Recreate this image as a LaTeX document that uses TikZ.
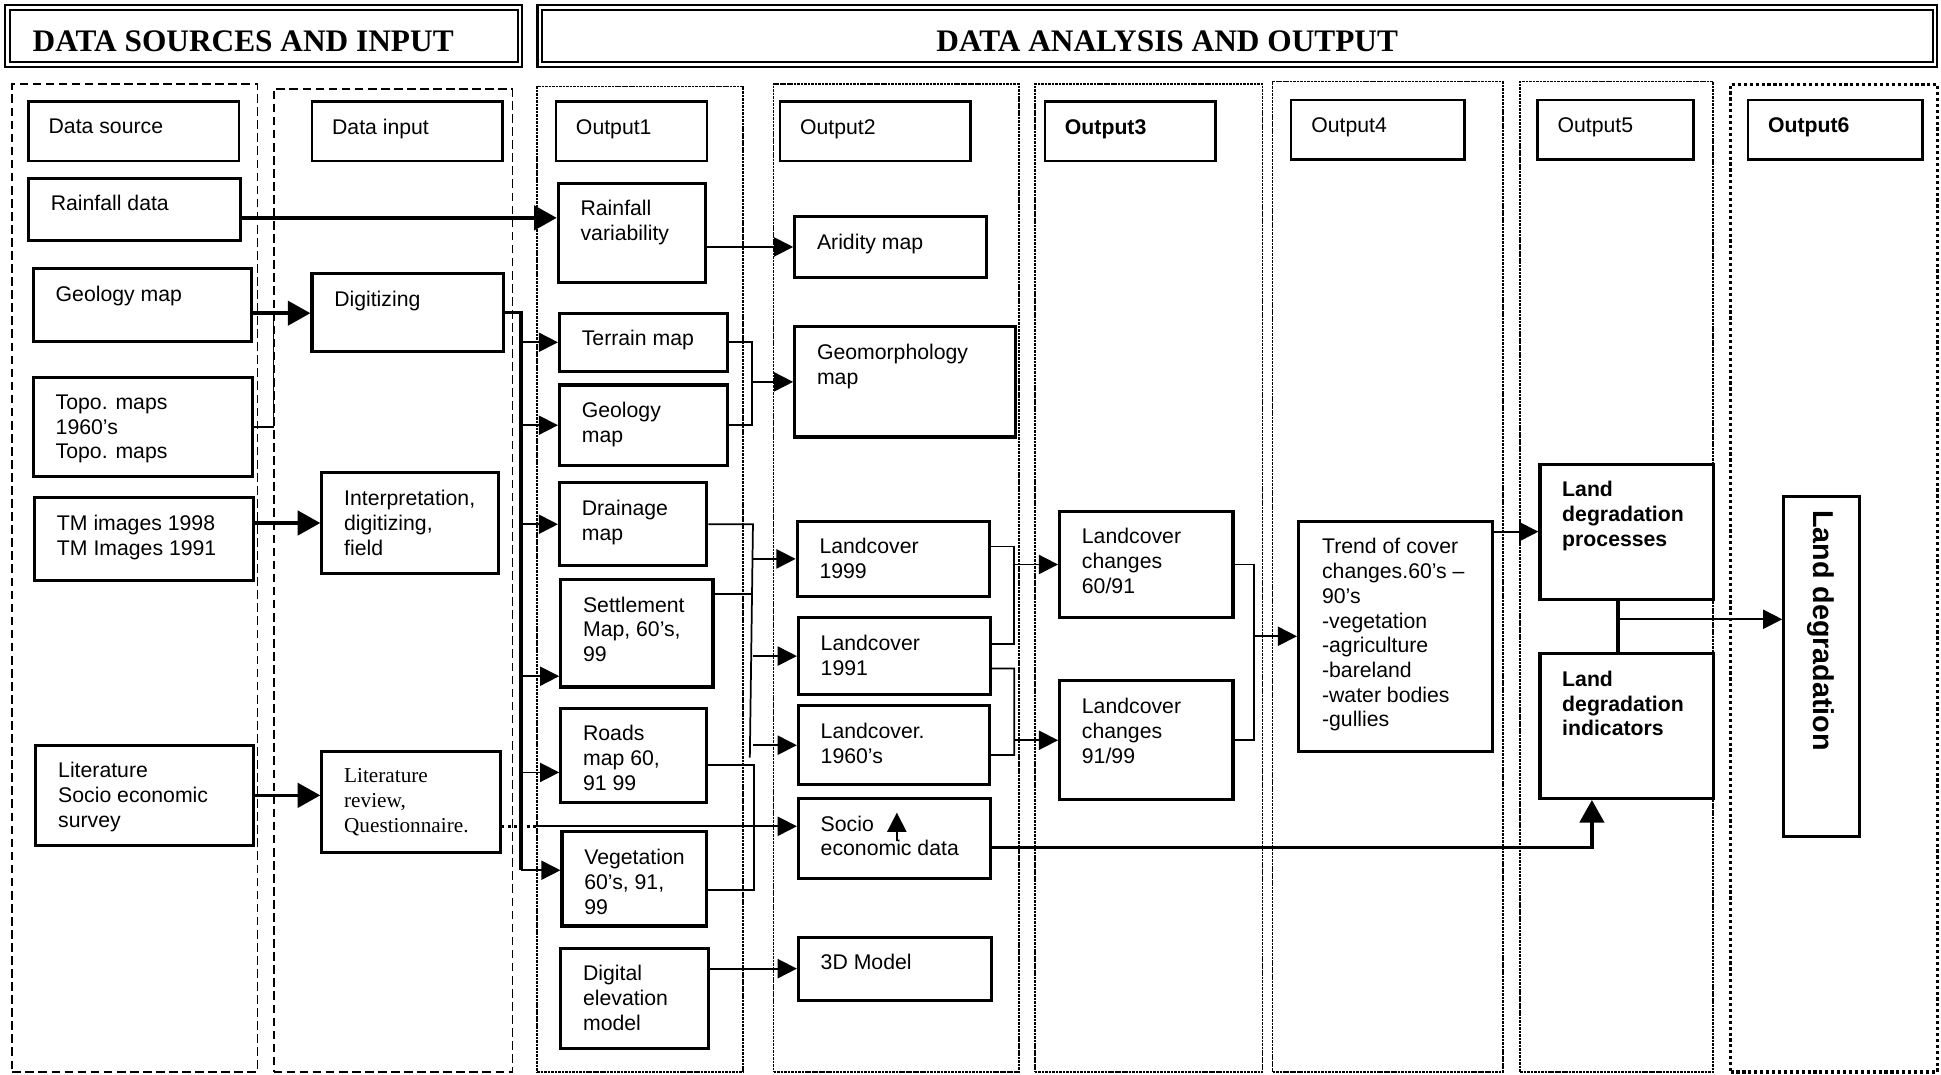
\documentclass[tikz,border=0pt]{standalone}
\usepackage{fontspec}
\setmainfont{Liberation Sans}
\newfontfamily\timesfont{Liberation Serif}
\usepackage{tikz}
\usetikzlibrary{fit, calc, arrows.meta}

\begin{document}
\begin{tikzpicture}[
    x=0.025cm, y=-0.025cm,
    %% ── Boxes ──
    box/.style={rectangle, draw, line width=1.8pt, inner sep=0pt},
    titlebox/.style={rectangle, draw, line width=1.4pt, inner sep=0pt},
    header/.style={rectangle, draw, double, line width=1.2pt,
        double distance=1.4pt, inner sep=0pt},
    %% ── Box texts (set at the top left corner) ──
    txt/.style={anchor=north west, inner sep=0pt, align=left,
        font=\fontsize{12.2}{14.2}\selectfont},
    serif/.style={txt, font=\timesfont\fontsize{12.2}{14.2}\selectfont},
    boldtxt/.style={txt, font=\bfseries\fontsize{12.2}{14.2}\selectfont},
    headtxt/.style={anchor=west, inner sep=0pt,
        font=\timesfont\bfseries\fontsize{18}{20}\selectfont},
    %% ── Column frames ──
    dashcol/.style={rectangle, draw, inner sep=0pt, line width=1.1pt,
        dash pattern=on 5pt off 2.5pt},
    dotcol/.style={rectangle, draw, inner sep=0pt, line width=0.9pt,
        dash pattern=on 1.5pt off 0.5pt},
    bigdotcol/.style={rectangle, draw, inner sep=0pt, line width=1.8pt,
        dash pattern=on 1.8pt off 1.6pt},
    %% ── Connectors ──
    link/.style={line width=1pt},
    blink/.style={line width=2pt},
    flow/.style={link, -{Triangle[length=11pt, width=11pt]}},
    bflow/.style={blink, -{Triangle[length=13pt, width=14pt]}},
]

\useasboundingbox (0,0) rectangle (1568,868);

% ── Headers ──
\node[header, fit={(6,6) (420,52)}]    (hsrc) {};
\node[header, fit={(436,6) (1563,52)}] (hana) {};
\node[headtxt] (hsrc-t) at ($(hsrc.west)+(21,4)$)  {DATA SOURCES AND INPUT};
\node[headtxt] (hana-t) at ($(hana.west)+(321,4)$) {DATA ANALYSIS AND OUTPUT};

% ── Column frames ──
\node[dashcol,   fit={(10,68) (208,866)}]    (csrc) {};
\node[dashcol,   fit={(221,72) (414,866)}]   (cin)  {};
\node[dotcol,    fit={(434,70) (600,866)}]   (co1)  {};
\node[dotcol,    fit={(625,68) (823,866)}]   (co2)  {};
\node[dotcol,    fit={(836,68) (1020,866)}]  (co3)  {};
\node[dotcol,    fit={(1028,66) (1214,866)}] (co4)  {};
\node[dotcol,    fit={(1228,66) (1384,866)}] (co5)  {};
\node[bigdotcol, fit={(1398,68) (1565,866)}] (co6)  {};

% ── Column titles ──
\node[titlebox, fit={(23,82) (193,130)}]    (tsrc) {};
\node[titlebox, fit={(252,82) (406,130)}]   (tin)  {};
\node[titlebox, fit={(449,82) (571,130)}]   (to1)  {};
\node[titlebox, fit={(630,82) (784,130)}]   (to2)  {};
\node[titlebox, fit={(844,82) (982,130)}]   (to3)  {};
\node[titlebox, fit={(1043,81) (1183,129)}] (to4)  {};
\node[titlebox, fit={(1242,81) (1368,129)}] (to5)  {};
\node[titlebox, fit={(1412,81) (1553,129)}] (to6)  {};
\node[txt]     (tsrc-t) at ($(tsrc.north west)+(17,15)$) {Data source};
\node[txt]     (tin-t)  at ($(tin.north west)+(17,15)$)  {Data input};
\node[txt]     (to1-t)  at ($(to1.north west)+(17,15)$)  {Output1};
\node[txt]     (to2-t)  at ($(to2.north west)+(17,15)$)  {Output2};
\node[boldtxt] (to3-t)  at ($(to3.north west)+(17,15)$)  {Output3};
\node[txt]     (to4-t)  at ($(to4.north west)+(17,15)$)  {Output4};
\node[txt]     (to5-t)  at ($(to5.north west)+(17,15)$)  {Output5};
\node[boldtxt] (to6-t)  at ($(to6.north west)+(17,15)$)  {Output6};

% ── Column 1 · Data source ──
\node[box, fit={(23,144) (194,194)}] (rain)   {};
\node[box, fit={(27,217) (203,276)}] (geosrc) {};
\node[box, fit={(27,305) (204,385)}] (topo)   {};
\node[box, fit={(28,402) (205,469)}] (tm)     {};
\node[box, fit={(29,602) (205,683)}] (lit)    {};
\node[txt] (rain-t)   at ($(rain.north west)+(19,15)$)   {Rainfall data};
\node[txt] (geosrc-t) at ($(geosrc.north west)+(19,15)$) {Geology map};
\node[txt] (topo-t)   at ($(topo.north west)+(19,15)$)   {Topo. maps\\1960’s\\Topo. maps};
\node[txt] (tm-t)     at ($(tm.north west)+(19,15)$)     {TM images 1998\\TM Images 1991};
\node[txt] (lit-t)    at ($(lit.north west)+(19,15)$)    {Literature\\Socio economic\\survey};

% ── Column 2 · Data input ──
\node[box, fit={(252,221) (407,284)}] (dig)    {};
\node[box, fit={(260,382) (403,463)}] (interp) {};
\node[box, fit={(260,607) (404,689)}] (litrev) {};
\node[txt]   (dig-t)    at ($(dig.north west)+(19,15)$)    {Digitizing};
\node[txt]   (interp-t) at ($(interp.north west)+(19,15)$) {Interpretation,\\digitizing,\\field};
\node[serif] (litrev-t) at ($(litrev.north west)+(19,15)$) {Literature\\review,\\Questionnaire.};

% ── Column 3 · Output1 ──
\node[box, fit={(451,148) (570,228)}] (rainvar) {};
\node[box, fit={(452,253) (588,300)}] (terrain) {};
\node[box, fit={(452,311) (588,376)}] (geo1)    {};
\node[box, fit={(452,390) (571,457)}] (drain)   {};
\node[box, fit={(453,468) (576,555)}] (settle)  {};
\node[box, fit={(453,572) (571,648)}] (roads)   {};
\node[box, fit={(454,672) (571,748)}] (veg)     {};
\node[box, fit={(453,766) (572,847)}] (dem)     {};
\node[txt] (rainvar-t) at ($(rainvar.north west)+(19,15)$) {Rainfall\\variability};
\node[txt] (terrain-t) at ($(terrain.north west)+(19,15)$) {Terrain map};
\node[txt] (geo1-t)    at ($(geo1.north west)+(19,15)$)    {Geology\\map};
\node[txt] (drain-t)   at ($(drain.north west)+(19,15)$)   {Drainage\\map};
\node[txt] (settle-t)  at ($(settle.north west)+(19,15)$)  {Settlement\\Map, 60’s,\\99};
\node[txt] (roads-t)   at ($(roads.north west)+(19,15)$)   {Roads\\map 60,\\91 99};
\node[txt] (veg-t)     at ($(veg.north west)+(19,15)$)     {Vegetation\\60’s, 91,\\99};
\node[txt] (dem-t)     at ($(dem.north west)+(19,15)$)     {Digital\\elevation\\model};

% ── Column 4 · Output2 ──
\node[box, fit={(642,175) (797,224)}] (arid)     {};
\node[box, fit={(642,264) (820,353)}] (geomorph) {};
\node[box, fit={(644,421) (799,482)}] (lc99)     {};
\node[box, fit={(645,499) (800,561)}] (lc91)     {};
\node[box, fit={(645,570) (799,634)}] (lc60)     {};
\node[box, fit={(645,645) (800,710)}] (socio)    {};
\node[box, fit={(645,757) (801,808)}] (model3d)  {};
\node[txt] (arid-t)     at ($(arid.north west)+(19,15)$)     {Aridity map};
\node[txt] (geomorph-t) at ($(geomorph.north west)+(19,15)$) {Geomorphology\\map};
\node[txt] (lc99-t)     at ($(lc99.north west)+(19,15)$)     {Landcover\\1999};
\node[txt] (lc91-t)     at ($(lc91.north west)+(19,15)$)     {Landcover\\1991};
\node[txt] (lc60-t)     at ($(lc60.north west)+(19,15)$)     {Landcover.\\1960’s};
\node[txt] (socio-t)    at ($(socio.north west)+(19,15)$)    {Socio\\economic data};
\node[txt] (model3d-t)  at ($(model3d.north west)+(19,15)$)  {3D Model};

% ── Columns 5 to 8 · Output3 to Output6 ──
\node[box, fit={(856,413) (996,499)}]   (lcc1)    {};
\node[box, fit={(856,550) (996,646)}]   (lcc2)    {};
\node[box, fit={(1049,421) (1206,607)}] (trend)   {};
\node[box, fit={(1244,375) (1384,484)}] (proc)    {};
\node[box, fit={(1244,528) (1384,645)}] (ind)     {};
\node[box, fit={(1441,401) (1502,676)}] (landdeg) {};
\node[txt]     (lcc1-t)  at ($(lcc1.north west)+(19,15)$)  {Landcover\\changes\\60/91};
\node[txt]     (lcc2-t)  at ($(lcc2.north west)+(19,15)$)  {Landcover\\changes\\91/99};
\node[txt]     (trend-t) at ($(trend.north west)+(20,15)$) {Trend of cover\\changes.60’s –\\90’s\\-vegetation\\-agriculture\\-bareland\\-water bodies\\-gullies};
\node[boldtxt] (proc-t)  at ($(proc.north west)+(19,15)$)  {Land\\degradation\\processes};
\node[boldtxt] (ind-t)   at ($(ind.north west)+(19,15)$)   {Land\\degradation\\indicators};
\node[anchor=north west, rotate=-90, inner sep=0pt,
      font=\bfseries\fontsize{16.5}{18}\selectfont]
      (landdeg-t) at ($(landdeg.north east)+(-21,12)$) {Land degradation};

% ── Junction points ──
\coordinate (rainout)  at ($(rain.east)+(0,7)$);
\coordinate (digjoin)  at (221,253);
\coordinate (busbot)   at (421,703);
\coordinate (settlein) at ($(settle.south west)+(0,-10)$);
\coordinate (roadsin)  at ($(roads.west)+(0,14)$);
\coordinate (gmjoin)   at ($(geo1.east)+(18,0)$);
\coordinate (lctop)    at ($(drain.east)+(36,0)$);
\coordinate (lcbot)    at ($(lc60.west)+(-38,10)$);
\coordinate (settleout) at ($(settle.north east)+(0,13)$);
\coordinate (rvjoin)   at ($(roads.east)+(37,8)$);
\coordinate (socin)    at ($(socio.west)+(0,-10)$);
\coordinate (socout)   at ($(socio.east)+(0,7)$);
\coordinate (c1top)    at ($(lc99.east)+(19,-10)$);
\coordinate (c1bot)    at ($(lc91.east)+(18,-10)$);
\coordinate (c2top)    at ($(lc91.east)+(18,10)$);
\coordinate (c2bot)    at ($(lc60.east)+(19,8)$);
\coordinate (ttop)     at ($(lcc1.east)+(16,0)$);
\coordinate (tbot)     at ($(lcc2.east)+(16,0)$);
\coordinate (pitop)    at ($(proc.south)+(-7,0)$);
\coordinate (pijoin)   at ($(pitop)+(0,15)$);

% Data source → Data input
\draw[bflow] (rainout) -- (rainvar.west |- rainout);
\draw[bflow] (geosrc.east |- digjoin) -- (dig.west |- digjoin);
\draw[link]  (topo.east) -| (digjoin);
\draw[bflow] (tm.east |- interp.west) -- (interp.west);
\draw[bflow] (lit.east) -- (litrev.west |- lit.east);

% Digitizing bus → Output1 maps
\draw[blink] (dig.east) -| (busbot);
\draw[flow] (busbot |- terrain.west) -- (terrain.west);
\draw[flow] (busbot |- geo1.west)    -- (geo1.west);
\draw[flow] (busbot |- drain.west)   -- (drain.west);
\draw[flow] (busbot |- settlein)     -- (settlein);
\draw[flow] (busbot |- roadsin)      -- (roadsin);
\draw[flow] (busbot)                 -- (veg.west |- busbot);

% Output1 → Output2
\draw[flow] (rainvar.east |- arid.west) -- (arid.west);
\draw[link] (terrain.east) -| (gmjoin) -- (geo1.east);
\draw[flow] (gmjoin |- geomorph.west) -- (geomorph.west);
\draw[link] (drain.east) -- (lctop) -- (lcbot);
\draw[link] (settleout) -- (lctop |- settleout);
\draw[flow] (lctop |- lc99.west) -- (lc99.west);
\draw[flow] (lctop |- lc91.west) -- (lc91.west);
\draw[flow] (lctop |- lc60.west) -- (lc60.west);
\draw[link] ($(roads.east)+(0,8)$) -- (rvjoin) |- ($(veg.east)+(0,9)$);
\draw[flow] (dem.east |- model3d.west) -- (model3d.west);

% Questionnaire (dotted) → Socio economic data
\draw[line width=1.6pt, dotted] (litrev.east |- socin) -- (co1.west |- socin);
\draw[flow] (co1.west |- socin) -- (socin);
\draw[flow] ($(socio.center)+(2,2)$) -- ($(socio.center)+(2,-21)$);

% Output2 → Output3 → Output4
\draw[link] ($(lc99.east)+(0,-10)$) -- (c1top) -- (c1bot) -- ($(lc91.east)+(0,-10)$);
\draw[flow] (c1top |- lcc1.west) -- (lcc1.west);
\draw[link] ($(lc91.east)+(0,10)$) -- (c2top) -- (c2bot) -- ($(lc60.east)+(0,8)$);
\draw[flow] (c2top |- lcc2.west) -- (lcc2.west);
\draw[link] (lcc1.east) -- (ttop) -- (tbot) -- (lcc2.east);
\draw[flow] (ttop |- trend.west) -- (trend.west);

% Output4 → Output5 → Output6
\draw[flow]  (trend.east |- proc.west) -- (proc.west);
\draw[blink] (pitop) -- (pitop |- ind.north);
\draw[flow]  (pijoin) -- (landdeg.west |- pijoin);
\draw[bflow] (socout) -| ($(ind.south)+(-28,0)$);

\end{tikzpicture}
\end{document}
